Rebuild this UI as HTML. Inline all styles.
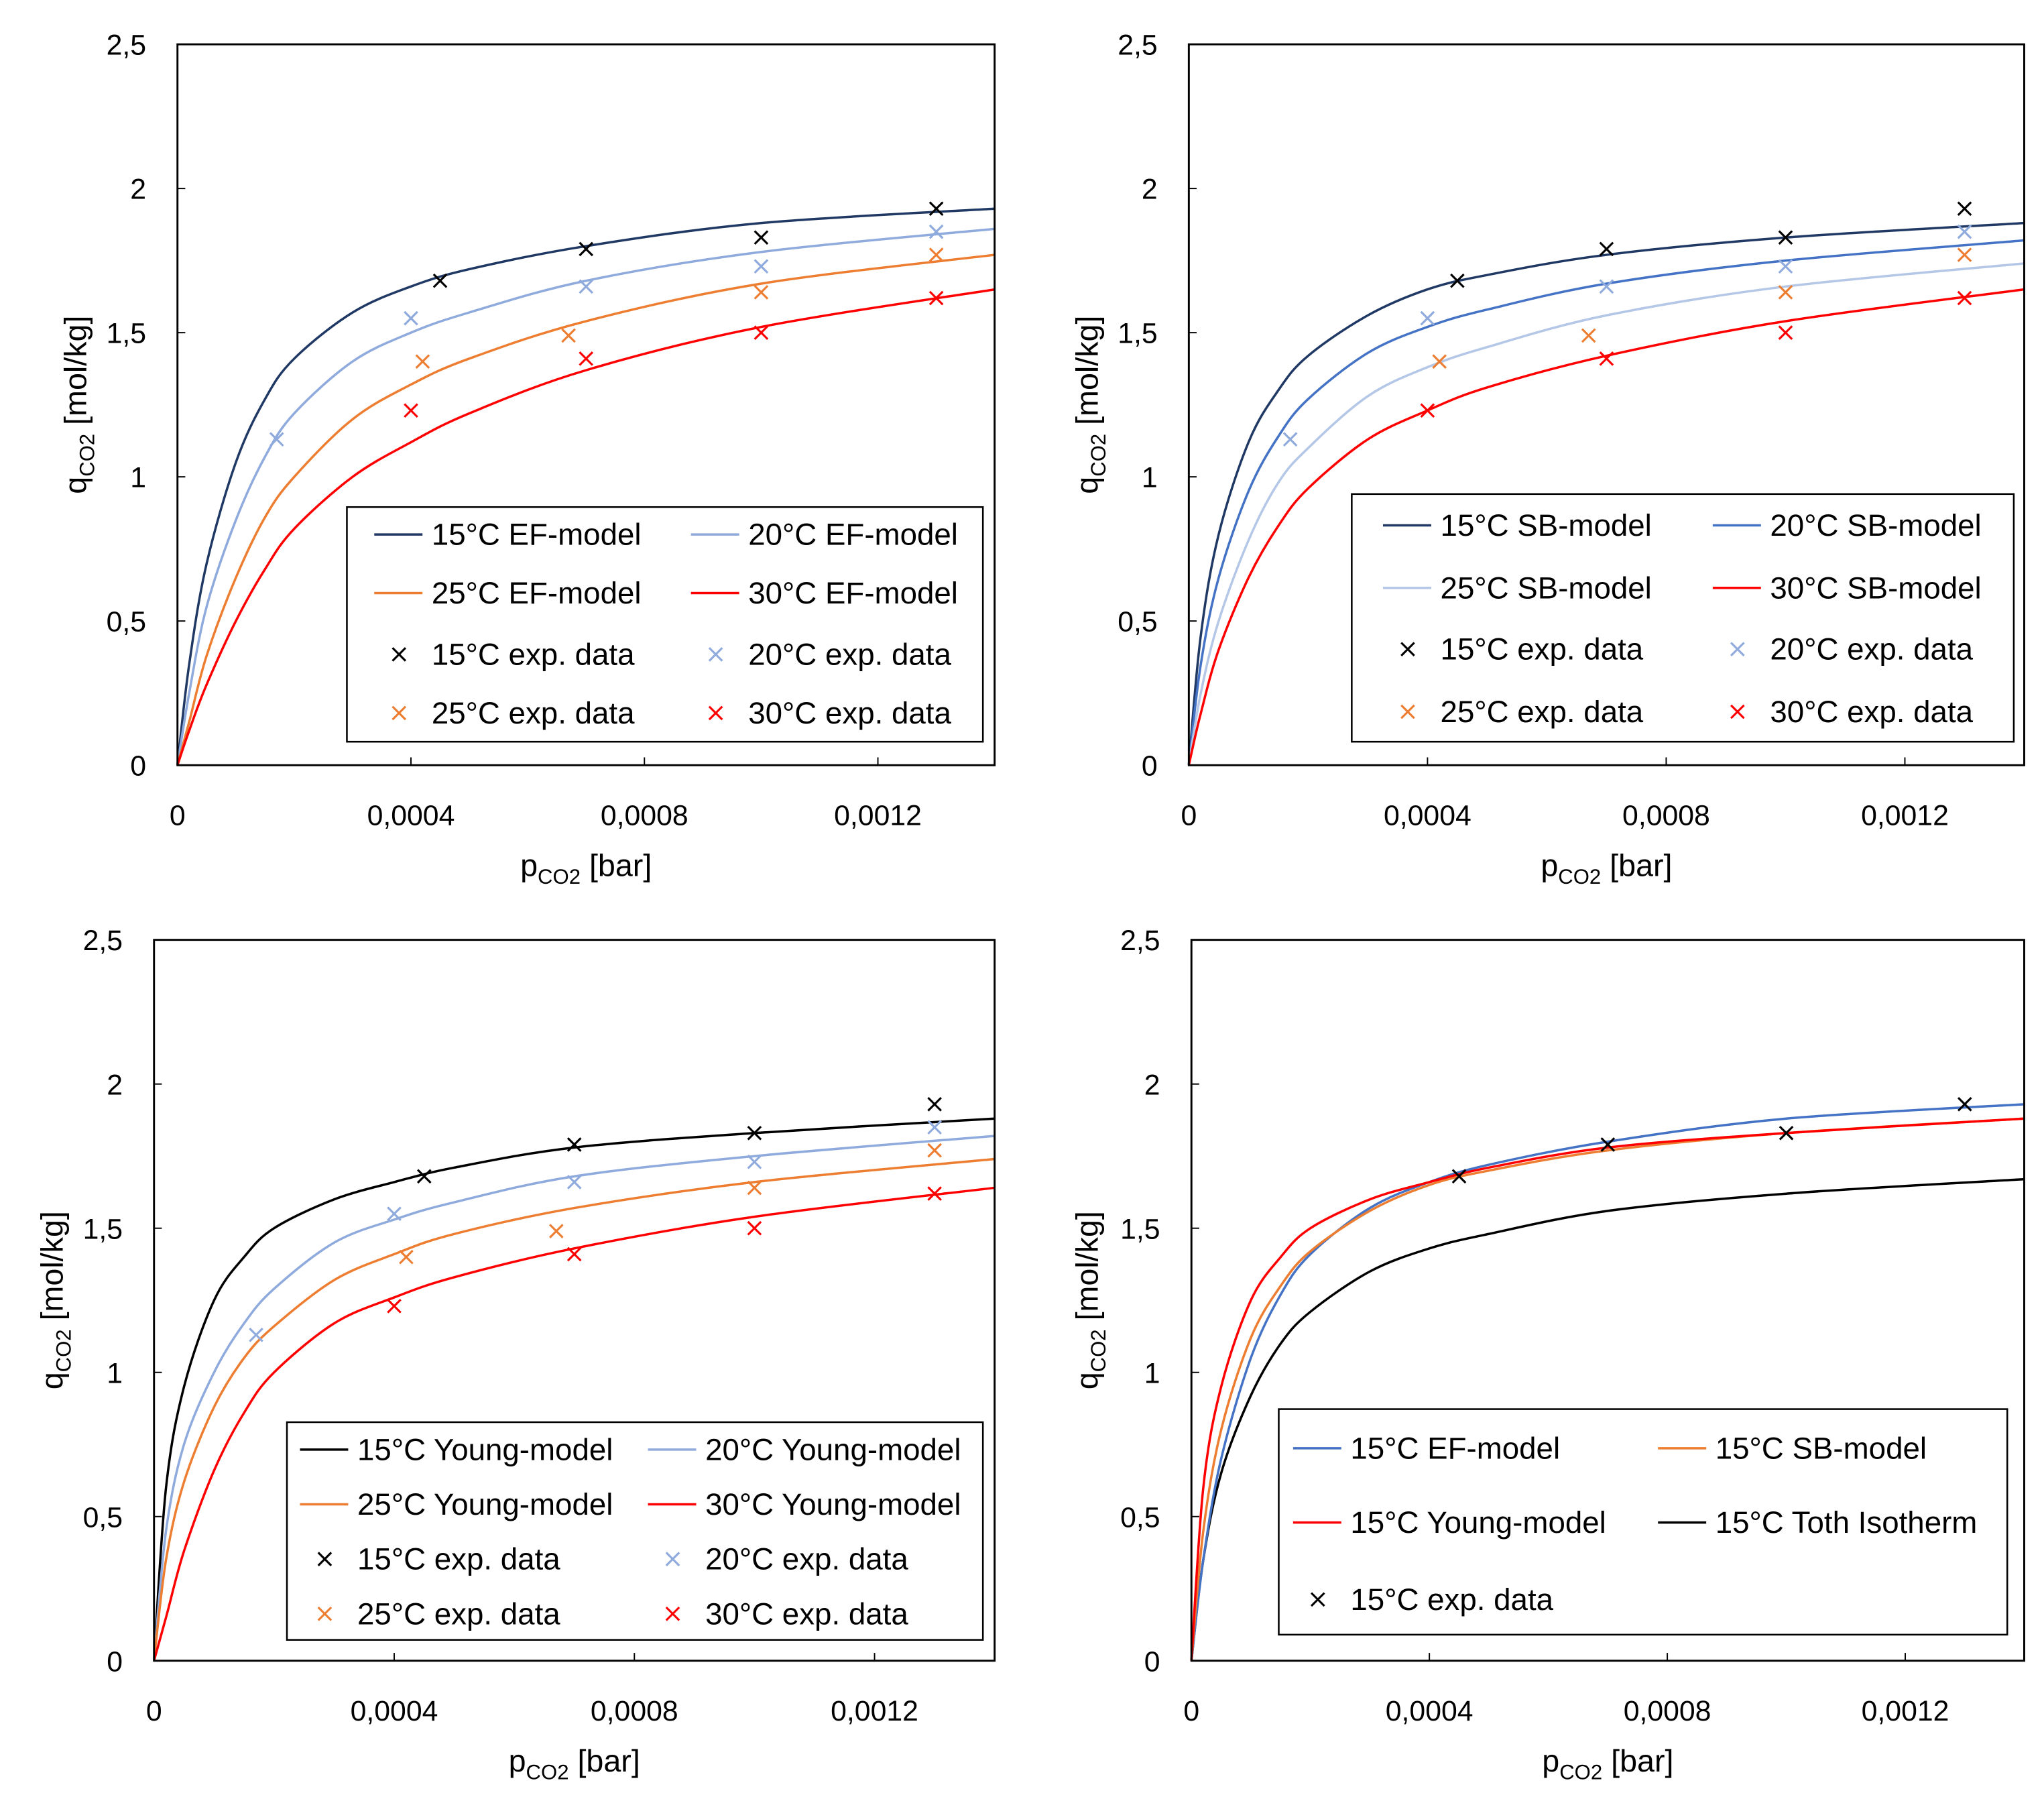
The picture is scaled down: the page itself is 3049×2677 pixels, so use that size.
<!DOCTYPE html>
<html><head><meta charset="utf-8"><style>
html,body{margin:0;padding:0;background:#fff}
svg{display:block}
text{font-family:"Liberation Sans",sans-serif;fill:#000}
</style></head><body>
<svg id="fig" width="3049" height="2677" viewBox="0 0 1568 1377" xmlns="http://www.w3.org/2000/svg"></svg>
<script>
const pGrid=[0,0.00002,0.00005,0.0001,0.00015,0.0002,0.0003,0.0004,0.0005,0.0007,0.001,0.0014];
const ef15=[0,0.35,0.7,1.05,1.27,1.41,1.57,1.66,1.72,1.80,1.88,1.93];
const ef20=[0,0.25,0.55,0.85,1.07,1.22,1.40,1.50,1.57,1.68,1.78,1.86];
const ef25=[0,0.15,0.38,0.65,0.86,1.0,1.20,1.32,1.41,1.54,1.67,1.77];
const ef30=[0,0.12,0.28,0.5,0.68,0.82,1.0,1.12,1.22,1.37,1.52,1.65];
const sb15=[0,0.45,0.8,1.12,1.3,1.42,1.56,1.65,1.70,1.77,1.83,1.88];
const sb20=[0,0.35,0.65,0.95,1.14,1.27,1.43,1.52,1.58,1.67,1.75,1.82];
const sb25=[0,0.25,0.5,0.78,0.98,1.1,1.28,1.38,1.45,1.56,1.66,1.74];
const sb30=[0,0.18,0.4,0.65,0.83,0.96,1.13,1.23,1.31,1.42,1.54,1.65];
const yo15=[0,0.6,0.95,1.25,1.4,1.5,1.6,1.66,1.71,1.78,1.83,1.88];
const yo20=[0,0.45,0.75,1.0,1.17,1.29,1.45,1.53,1.59,1.68,1.75,1.82];
const yo25=[0,0.35,0.62,0.88,1.05,1.16,1.32,1.41,1.48,1.57,1.66,1.74];
const yo30=[0,0.15,0.38,0.66,0.86,1.0,1.17,1.26,1.33,1.43,1.54,1.64];
const toth15=[0,0.35,0.65,0.92,1.1,1.21,1.35,1.43,1.48,1.56,1.62,1.67];
const exp15p=[0.00045,0.0007,0.001,0.0013], exp15q=[1.68,1.79,1.83,1.93];
const exp20p=[0.00017,0.0004,0.0007,0.001,0.0013], exp20q=[1.13,1.55,1.66,1.73,1.85];
const exp25p=[0.00042,0.00067,0.001,0.0013], exp25q=[1.40,1.49,1.64,1.77];
const exp30p=[0.0004,0.0007,0.001,0.0013], exp30q=[1.23,1.41,1.50,1.62];
const yTicks=["0","0,5","1","1,5","2","2,5"];
const xTicks=["0","0,0004","0,0008","0,0012"];

const NS="http://www.w3.org/2000/svg";
const svg=document.getElementById('fig');
function mk(tag,attrs,parent){const e=document.createElementNS(NS,tag);for(const k in attrs)e.setAttribute(k,attrs[k]);(parent||svg).appendChild(e);return e;}
const C={navy:'#1f3864',lb:'#8faadc',or:'#ed7d31',red:'#ff0000',blk:'#000',blue:'#4472c4',vlb:'#b4c7e7'};

function smooth(pts){
  let d='M'+pts[0][0].toFixed(1)+','+pts[0][1].toFixed(1);
  for(let i=0;i<pts.length-1;i++){
    const p0=pts[Math.max(0,i-1)],p1=pts[i],p2=pts[i+1],p3=pts[Math.min(pts.length-1,i+2)];
    const c1x=p1[0]+(p2[0]-p0[0])/6,c1y=p1[1]+(p2[1]-p0[1])/6;
    const c2x=p2[0]-(p3[0]-p1[0])/6,c2y=p2[1]-(p3[1]-p1[1])/6;
    d+=`C${c1x.toFixed(1)},${c1y.toFixed(1)} ${c2x.toFixed(1)},${c2y.toFixed(1)} ${p2[0].toFixed(1)},${p2[1].toFixed(1)}`;
  }
  return d;
}

function panel(cfg){
  const g=mk('g',{});
  
  
  const {L,R,T,B}=cfg;
  const sx=p=>L+(R-L)*p/0.0014, sy=q=>B-(B-T)*q/2.5;
  yTicks.forEach((t,i)=>{const y=sy(i*0.5);
    mk('line',{x1:L,x2:L+6,y1:y,y2:y,stroke:'#000','stroke-width':1},g);
    const tx=mk('text',{x:L-24,y:y+8,'font-size':22,'text-anchor':'end'},g);tx.textContent=t;
    });
  xTicks.forEach((t,i)=>{const x=sx(i*0.0004);
    mk('line',{x1:x,x2:x,y1:B,y2:B-6,stroke:'#000','stroke-width':1},g);
    const tx=mk('text',{x:x,y:B+46,'font-size':22,'text-anchor':'middle'},g);tx.textContent=t;
    });
  cfg.curves.forEach(c=>{
    const pts=pGrid.map((p,i)=>[sx(p),sy(c.q[i])]);
    const pa=mk('path',{d:smooth(pts),fill:'none',stroke:c.col,'stroke-width':1.8,'stroke-linejoin':'round'},g);
    
  });
  cfg.exps.forEach(e=>{
    e.p.forEach((p,i)=>{const x=sx(p),y=sy(e.q[i]);
      const m=mk('path',{d:`M${x-5},${y-5}L${x+5},${y+5}M${x-5},${y+5}L${x+5},${y-5}`,stroke:e.col,'stroke-width':1.6,fill:'none'},g);
      });
  });
  mk('rect',{x:L,y:T,width:R-L,height:B-T,fill:'none',stroke:'#000','stroke-width':1.5},g);
  const cx=(L+R)/2;
  const xt=mk('text',{x:cx,y:B+85,'font-size':24,'text-anchor':'middle'},g);
  xt.innerHTML='p<tspan font-size="16" dy="6">CO2</tspan><tspan dy="-6"> [bar]</tspan>';
  
  const cy=(T+B)/2;
  const yt=mk('text',{x:0,y:0,'font-size':24,'text-anchor':'middle',transform:`translate(${cfg.yt},${cy}) rotate(-90)`},g);
  yt.innerHTML='q<tspan font-size="16" dy="6">CO2</tspan><tspan dy="-6"> [mol/kg]</tspan>';
  
  const lg=cfg.leg;
  const lb=mk('g',{},g);
  mk('rect',{x:lg.x,y:lg.y,width:lg.w,height:lg.h,fill:'#fff',stroke:'#000','stroke-width':1.3},lb);
  lg.items.forEach(it=>{
    const [col,row,label,color,type]=it;
    const lx=lg.cols[col], y=lg.rows[row];
    if(type==='l') mk('line',{x1:lx,x2:lx+37,y1:y,y2:y,stroke:color,'stroke-width':1.8},lb);
    else mk('path',{d:`M${lx+14},${y-5}L${lx+24},${y+5}M${lx+14},${y+5}L${lx+24},${y-5}`,stroke:color,'stroke-width':1.6},lb);
    const t=mk('text',{x:lx+44,y:y+8,'font-size':23.5},lb);t.textContent=label;
    
  });
}

panel({name:'ef-model-chart',L:136,R:763,T:34,B:587,yt:66,
  curves:[{id:'ef15-line',q:ef15,col:C.navy},{id:'ef20-line',q:ef20,col:C.lb},{id:'ef25-line',q:ef25,col:C.or},{id:'ef30-line',q:ef30,col:C.red}],
  exps:[{id:'exp15-marker',p:exp15p,q:exp15q,col:C.blk},{id:'exp20-marker',p:exp20p,q:exp20q,col:C.lb},{id:'exp25-marker',p:exp25p,q:exp25q,col:C.or},{id:'exp30-marker',p:exp30p,q:exp30q,col:C.red}],
  leg:{x:266,y:389,w:488,h:180,cols:[287,530],rows:[410,455,502,547],items:[
    [0,0,'15°C EF-model',C.navy,'l'],[1,0,'20°C EF-model',C.lb,'l'],[0,1,'25°C EF-model',C.or,'l'],[1,1,'30°C EF-model',C.red,'l'],
    [0,2,'15°C exp. data',C.blk,'x'],[1,2,'20°C exp. data',C.lb,'x'],[0,3,'25°C exp. data',C.or,'x'],[1,3,'30°C exp. data',C.red,'x']]}});

panel({name:'sb-model-chart',L:912,R:1553,T:34,B:587,yt:842,
  curves:[{id:'sb15-line',q:sb15,col:C.navy},{id:'sb20-line',q:sb20,col:C.blue},{id:'sb25-line',q:sb25,col:C.vlb},{id:'sb30-line',q:sb30,col:C.red}],
  exps:[{id:'exp15-marker',p:exp15p,q:exp15q,col:C.blk},{id:'exp20-marker',p:exp20p,q:exp20q,col:C.lb},{id:'exp25-marker',p:exp25p,q:exp25q,col:C.or},{id:'exp30-marker',p:exp30p,q:exp30q,col:C.red}],
  leg:{x:1037,y:379,w:508,h:190,cols:[1061,1314],rows:[403,451,498,546],items:[
    [0,0,'15°C SB-model',C.navy,'l'],[1,0,'20°C SB-model',C.blue,'l'],[0,1,'25°C SB-model',C.vlb,'l'],[1,1,'30°C SB-model',C.red,'l'],
    [0,2,'15°C exp. data',C.blk,'x'],[1,2,'20°C exp. data',C.lb,'x'],[0,3,'25°C exp. data',C.or,'x'],[1,3,'30°C exp. data',C.red,'x']]}});

panel({name:'young-model-chart',L:118,R:763,T:721,B:1274,yt:48,
  curves:[{id:'young15-line',q:yo15,col:C.blk},{id:'young20-line',q:yo20,col:C.lb},{id:'young25-line',q:yo25,col:C.or},{id:'young30-line',q:yo30,col:C.red}],
  exps:[{id:'exp15-marker',p:exp15p,q:exp15q,col:C.blk},{id:'exp20-marker',p:exp20p,q:exp20q,col:C.lb},{id:'exp25-marker',p:exp25p,q:exp25q,col:C.or},{id:'exp30-marker',p:exp30p,q:exp30q,col:C.red}],
  leg:{x:220,y:1091,w:534,h:167,cols:[230,497],rows:[1112,1154,1196,1238],items:[
    [0,0,'15°C Young-model',C.blk,'l'],[1,0,'20°C Young-model',C.lb,'l'],[0,1,'25°C Young-model',C.or,'l'],[1,1,'30°C Young-model',C.red,'l'],
    [0,2,'15°C exp. data',C.blk,'x'],[1,2,'20°C exp. data',C.lb,'x'],[0,3,'25°C exp. data',C.or,'x'],[1,3,'30°C exp. data',C.red,'x']]}});

panel({name:'model-comparison-chart',L:914,R:1553,T:721,B:1274,yt:842,
  curves:[{id:'toth15-line',q:toth15,col:C.blk},{id:'ef15-line',q:ef15,col:C.blue},{id:'sb15-line',q:sb15,col:C.or},{id:'young15-line',q:yo15,col:C.red}],
  exps:[{id:'exp15-marker',p:exp15p,q:exp15q,col:C.blk}],
  leg:{x:981,y:1081,w:559,h:173,cols:[992,1272],rows:[1111,1168,1227],items:[
    [0,0,'15°C EF-model',C.blue,'l'],[1,0,'15°C SB-model',C.or,'l'],[0,1,'15°C Young-model',C.red,'l'],[1,1,'15°C Toth Isotherm',C.blk,'l'],
    [0,2,'15°C exp. data',C.blk,'x']]}});
</script>
</body></html>
